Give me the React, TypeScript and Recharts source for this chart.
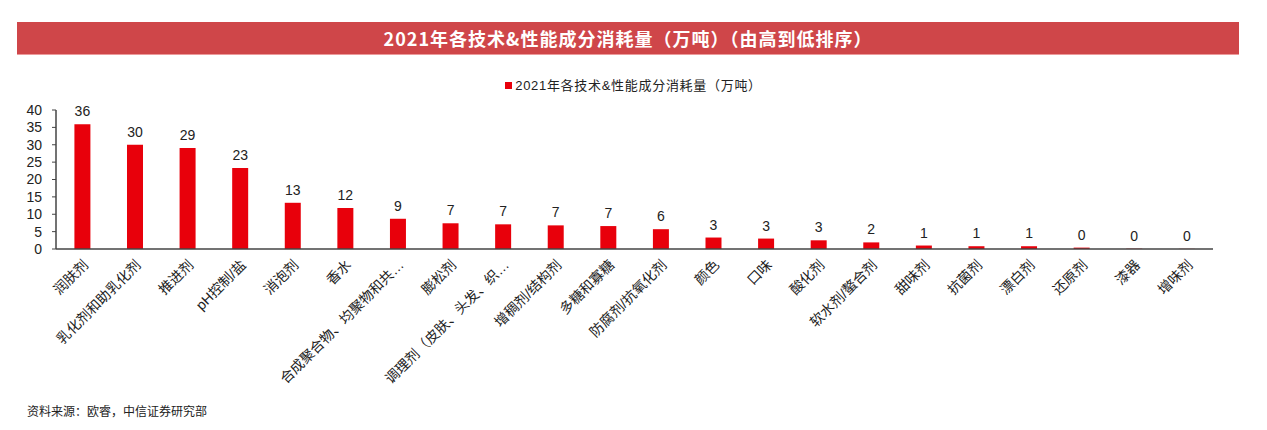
import React from 'react';
import { BarChart, Bar, XAxis, YAxis, LabelList } from 'recharts';

const categories = [
    '润肤剂', '乳化剂和助乳化剂', '推进剂', 'pH控制/盐', '消泡剂', '香水',
    '合成聚合物、均聚物和共…', '膨松剂', '调理剂（皮肤、头发、织…', '增稠剂/结构剂',
    '多糖和寡糖', '防腐剂/抗氧化剂', '颜色', '口味', '酸化剂', '软水剂/螯合剂',
    '甜味剂', '抗菌剂', '漂白剂', '还原剂', '漆器', '增味剂',
];
const consumption = [
    35.9, 30.0, 29.1, 23.3, 13.3, 11.8, 8.7, 7.4, 7.1, 6.8, 6.6, 5.7,
    3.3, 3.0, 2.5, 1.9, 1.0, 0.8, 0.8, 0.4, 0.1, 0.05,
];
const yTicks = [0, 5, 10, 15, 20, 25, 30, 35, 40];

const seriesName = '2021年各技术&性能成分消耗量（万吨）';
const title = '2021年各技术&性能成分消耗量（万吨）（由高到低排序）';
const source = '资料来源：欧睿，中信证券研究部';

const data = categories.map((name, i) => ({ name, value: consumption[i] }));

const FONT = '"Liberation Sans", Arial, "Noto Sans CJK SC", sans-serif';
const RED = '#e8000b';

// rotated category labels, end of text sits just right of the bar centre
const AngledTick = (props: any) => {
    const { x, y, payload } = props;
    return (
        <g transform={`translate(${x + 4},${y + 6})`}>
            <text transform="rotate(-45)" textAnchor="end" dy={4} fontSize={14} fill="#222" fontFamily={FONT}>
                {payload.value}
            </text>
        </g>
    );
};

export default function App() {
    return (
        <div style={{ position: 'absolute', left: 0, top: 0, width: 1267, height: 430, background: '#fff', fontFamily: FONT }}>
            <div
                style={{
                    position: 'absolute', left: 17, top: 22, width: 1222, height: 32,
                    background: '#cf4649', borderBottom: '1px solid #ec9a9b',
                    color: '#fff', fontWeight: 'bold', fontSize: 18, letterSpacing: 1, lineHeight: '32px', textAlign: 'center',
                    fontFamily: '"Noto Sans CJK SC", sans-serif',
                }}
            >
                {title}
            </div>
            <div style={{ position: 'absolute', left: 0, top: 75, width: 1267, textAlign: 'center', fontSize: 13, letterSpacing: 0.7, color: '#222' }}>
                <span style={{ display: 'inline-block', width: 7, height: 7, background: RED, marginRight: 3, verticalAlign: 'middle', position: 'relative', top: -1 }} />
                <span>{seriesName}</span>
            </div>
            <BarChart
                width={1267}
                height={430}
                data={data}
                margin={{ top: 110, right: 54, bottom: 0, left: 0 }}
                barCategoryGap="35%"
                style={{ position: 'absolute', left: 0, top: 0 }}
            >
                <XAxis
                    dataKey="name"
                    interval={0}
                    height={181}
                    tickLine={false}
                    axisLine={{ stroke: '#444', strokeWidth: 1.5 }}
                    tick={<AngledTick />}
                />
                <YAxis
                    width={56}
                    domain={[0, 40]}
                    ticks={yTicks}
                    interval={0}
                    tickSize={4}
                    tickMargin={10}
                    tickLine={{ stroke: '#444' }}
                    axisLine={{ stroke: '#444', strokeWidth: 1.5 }}
                    tick={{ fontSize: 14, fill: '#222', fontFamily: FONT }}
                />
                <Bar dataKey="value" fill={RED} isAnimationActive={false}>
                    <LabelList
                        dataKey="value"
                        position="top"
                        offset={8}
                        formatter={(v: any) => Math.round(Number(v))}
                        style={{ fontSize: 14, fill: '#222', fontFamily: FONT }}
                    />
                </Bar>
            </BarChart>
            <div style={{ position: 'absolute', left: 27, top: 402, fontSize: 12, color: '#222' }}>{source}</div>
        </div>
    );
}
